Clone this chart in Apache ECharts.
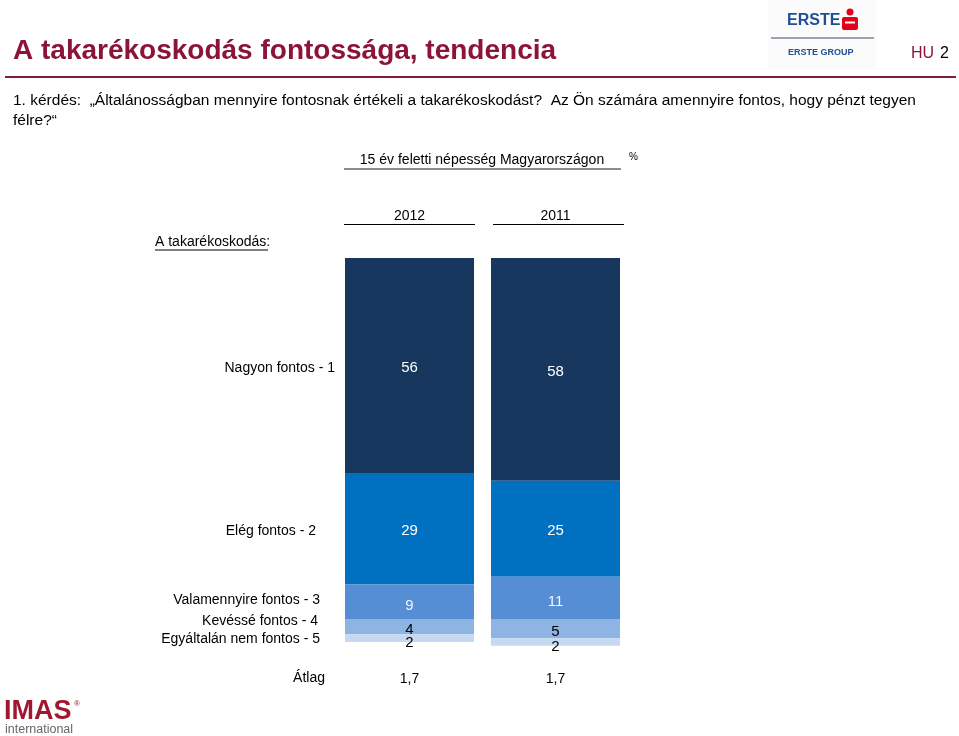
<!DOCTYPE html>
<html>
<head>
<meta charset="utf-8">
<script src="https://cdn.jsdelivr.net/npm/echarts@6/dist/echarts.min.js"></script>
<style>
  html, body { margin: 0; padding: 0; background: #fff; }
  #chart { width: 959px; height: 736px; }
</style>
</head>
<body>
<div id="chart"></div>
<script>
// adatok
var years = ['2012', '2011'];
var averages = ['1,7', '1,7'];
var answers = ['Nagyon fontos - 1', 'Elég fontos - 2', 'Valamennyire fontos - 3', 'Kevéssé fontos - 4', 'Egyáltalán nem fontos - 5'];
var nagyon = [56, 58];
var eleg = [29, 25];
var valamennyire = [9, 11];
var kevesse = [4, 5];
var egyaltalan = [2, 2];

var colors = ['#17375e', '#0070c0', '#558ed5', '#8eb4e3', '#c6d9f1'];
var labelColors = ['#fff', '#fff', '#f2f6fb', '#000', '#000'];
var labelOffsets = [[0, 2], [0, 2], [0, 4], [0, 3], [0, 5]];
var FONT = '"Liberation Sans", Arial, sans-serif';

var chart = echarts.init(document.getElementById('chart'), null, { renderer: 'canvas' });

var seriesData = [nagyon, eleg, valamennyire, kevesse, egyaltalan];
var series = seriesData.map(function (vals, i) {
    return {
        name: answers[i],
        type: 'bar',
        stack: 'total',
        data: vals,
        barWidth: 129,
        clip: false,
        itemStyle: { color: colors[i] },
        label: {
            show: true,
            position: 'inside',
            color: labelColors[i],
            fontFamily: FONT,
            fontSize: 15,
            offset: labelOffsets[i]
        }
    };
});

// bal oldali kategória feliratok
var leftLabelPos = [[335, 368], [316, 531], [320, 600], [318, 621], [320, 639]];
var leftLabels = answers.map(function (t, i) {
    return {
        type: 'text', x: leftLabelPos[i][0], y: leftLabelPos[i][1],
        style: { text: t, align: 'right', verticalAlign: 'middle', fill: '#000', font: '14px ' + FONT }
    };
});

var graphics = [
    // fejléc
    { type: 'text', x: 13, y: 51, style: { text: 'A takarékoskodás fontossága, tendencia', verticalAlign: 'middle', fill: '#8c1436', font: 'bold 28px ' + FONT } },
    { type: 'line', shape: { x1: 5, y1: 77, x2: 956, y2: 77 }, style: { stroke: '#7f1d3f', lineWidth: 2 } },
    { type: 'text', x: 911, y: 54, style: { text: 'HU', verticalAlign: 'middle', fill: '#8c1436', font: '16px ' + FONT } },
    { type: 'text', x: 940, y: 54, style: { text: '2', verticalAlign: 'middle', fill: '#000', font: '16px ' + FONT } },
    { type: 'text', x: 13, y: 101, style: { text: '1. kérdés:  „Általánosságban mennyire fontosnak értékeli a takarékoskodást?  Az Ön számára amennyire fontos, hogy pénzt tegyen', verticalAlign: 'middle', fill: '#000', font: '15.5px ' + FONT } },
    { type: 'text', x: 13, y: 121, style: { text: 'félre?“', verticalAlign: 'middle', fill: '#000', font: '15.5px ' + FONT } },

    // ERSTE logó
    { type: 'rect', shape: { x: 768, y: 0, width: 108, height: 68 }, style: { fill: '#fbfbfb' } },
    { type: 'text', x: 787, y: 21, style: { text: 'ERSTE', verticalAlign: 'middle', fill: '#1f4e96', font: 'bold 16px ' + FONT } },
    { type: 'circle', shape: { cx: 850, cy: 12, r: 3.5 }, style: { fill: '#e2001a' } },
    { type: 'rect', shape: { x: 842, y: 17, width: 16, height: 13, r: 2 }, style: { fill: '#e2001a' } },
    { type: 'rect', shape: { x: 845, y: 21.5, width: 10, height: 2 }, style: { fill: '#fff' } },
    { type: 'line', shape: { x1: 771, y1: 38, x2: 874, y2: 38 }, style: { stroke: '#9aa4b0', lineWidth: 2 } },
    { type: 'text', x: 788, y: 53, style: { text: 'ERSTE GROUP', verticalAlign: 'middle', fill: '#1f4e96', font: 'bold 9px ' + FONT } },

    // alcím
    { type: 'text', x: 482, y: 160, style: { text: '15 év feletti népesség Magyarországon', align: 'center', verticalAlign: 'middle', fill: '#000', font: '14px ' + FONT } },
    { type: 'line', shape: { x1: 344, y1: 169, x2: 621, y2: 169 }, style: { stroke: '#8c8c8c', lineWidth: 2 } },
    { type: 'text', x: 629, y: 157, style: { text: '%', verticalAlign: 'middle', fill: '#000', font: '10px ' + FONT } },

    { type: 'text', x: 155, y: 242, style: { text: 'A takarékoskodás:', verticalAlign: 'middle', fill: '#000', font: '14px ' + FONT } },
    { type: 'line', shape: { x1: 155, y1: 250, x2: 268, y2: 250 }, style: { stroke: '#000', lineWidth: 1 } },

    { type: 'line', shape: { x1: 344, y1: 224.5, x2: 475, y2: 224.5 }, style: { stroke: '#000', lineWidth: 1 } },
    { type: 'line', shape: { x1: 493, y1: 224.5, x2: 624, y2: 224.5 }, style: { stroke: '#000', lineWidth: 1 } },

    { type: 'text', x: 325, y: 678, style: { text: 'Átlag', align: 'right', verticalAlign: 'middle', fill: '#000', font: '14px ' + FONT } },

    // IMAS logó
    { type: 'text', x: 4, y: 712, style: { text: 'IMAS', verticalAlign: 'middle', fill: '#a01830', font: 'bold 27px ' + FONT } },
    { type: 'text', x: 74, y: 704, style: { text: '®', verticalAlign: 'middle', fill: '#a01830', font: '8px ' + FONT } },
    { type: 'text', x: 5, y: 730, style: { text: 'international', verticalAlign: 'middle', fill: '#666', font: '12.5px ' + FONT } }
].concat(leftLabels);

chart.setOption({
    backgroundColor: '#fff',
    animation: false,
    grid: { left: 336.5, right: 330.5, top: 258, bottom: 94 },
    xAxis: [
        {
            type: 'category', data: years, position: 'top',
            axisLine: { show: false }, axisTick: { show: false },
            axisLabel: { color: '#000', fontFamily: FONT, fontSize: 14, margin: 35 }
        },
        {
            type: 'category', data: averages, position: 'bottom',
            axisLine: { show: false }, axisTick: { show: false },
            axisLabel: { color: '#000', fontFamily: FONT, fontSize: 14, margin: 30 }
        }
    ],
    yAxis: {
        type: 'value', min: 0, max: 100, inverse: true, show: false,
        splitLine: { show: false }
    },
    series: series,
    graphic: graphics
});
</script>
</body>
</html>
